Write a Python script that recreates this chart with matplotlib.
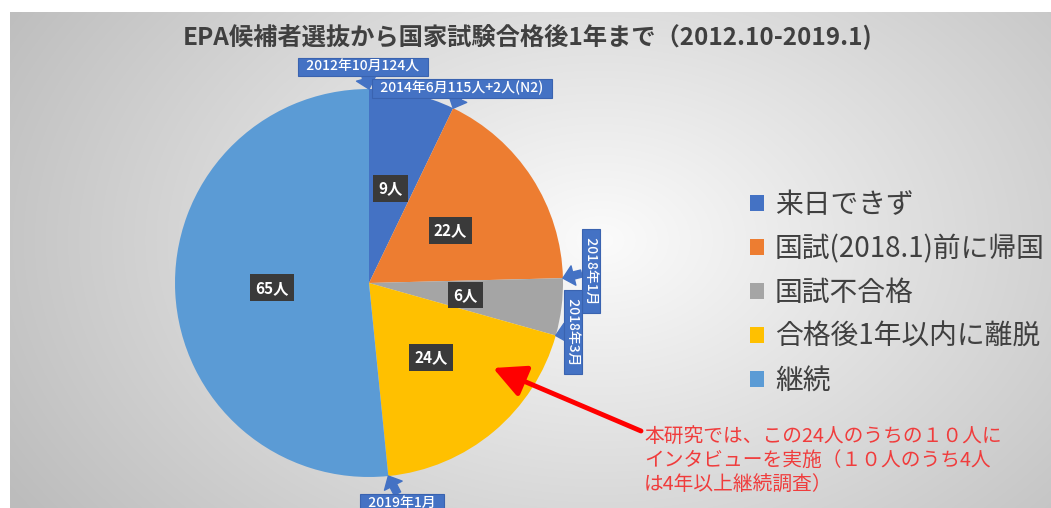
import numpy as np
import matplotlib
matplotlib.use('Agg')
import matplotlib.pyplot as plt

plt.rcParams['font.family'] = ['Noto Sans CJK JP', 'DejaVu Sans']

# ---- data ----
categories = ['来日できず', '国試(2018.1)前に帰国', '国試不合格', '合格後1年以内に離脱', '継続']
values = [9, 22, 6, 24, 65]
value_labels = ['9人', '22人', '6人', '24人', '65人']
colors = ['#4472C4', '#ED7D31', '#A5A5A5', '#FFC000', '#5B9BD5']
title = 'EPA候補者選抜から国家試験合格後1年まで（2012.10-2019.1)'
callout_texts = ['2012年10月124人', '2014年6月115人+2人(N2)', '2018年1月', '2018年3月', '2019年1月']
note = '本研究では、この24人のうちの１０人に\nインタビューを実施（１０人のうち4人\nは4年以上継続調査）'

W, H = 1051, 508
fig = plt.figure(figsize=(W / 100, H / 100), dpi=100)
fig.patch.set_facecolor('white')

# background panel with radial gradient
bg = fig.add_axes([0, 0, 1, 1])
bg.set_xlim(0, W)
bg.set_ylim(H, 0)
bg.axis('off')
yy, xx = np.mgrid[12:H, 10:W]
d = np.sqrt(((xx - 600) / 620.0) ** 2 + ((yy - 240) / 430.0) ** 2)
g = np.clip(0.985 - 0.22 * d, 0.74, 1)
bg.imshow(np.dstack([g, g, g]), extent=(10, W, H, 12), aspect='auto', zorder=0,
          interpolation='bilinear')

bg.text(528, 37, title, ha='center', va='center', fontsize=17.5, fontweight='bold',
        color='#404040')

# pie
cx, cy, R = 369, 283, 194
ax = fig.add_axes([(cx - R) / W, (H - cy - R) / H, 2 * R / W, 2 * R / H])
wedges, _ = ax.pie(values, colors=colors, startangle=90, counterclock=False,
                   radius=1, wedgeprops=dict(linewidth=0))
ax.set_xlim(-1, 1)
ax.set_ylim(-1, 1)
ax.set_aspect('equal')

for w, lab in zip(wedges, value_labels):
    th = np.deg2rad((w.theta1 + w.theta2) / 2)
    ax.text(0.5 * np.cos(th), 0.5 * np.sin(th), lab, ha='center', va='center',
            fontsize=11, fontweight='bold', color='white',
            bbox=dict(boxstyle='square,pad=0.35', fc='#3a3a3a', ec='none'))

# callouts at slice boundaries
total = sum(values)
cum = np.concatenate([[0], np.cumsum(values)])
offsets = [(-6, 22), (9, 20), (28, 7), (17, 4), (14, -27)]
rots = [0, 0, 270, 270, 0]
for i, (txt, off, rot) in enumerate(zip(callout_texts, offsets, rots)):
    ang = np.deg2rad(90 - cum[i] / total * 360)
    xy = (np.cos(ang), np.sin(ang))
    ax.annotate('  ' + txt + '  ', xy=xy, xytext=off, textcoords='offset pixels',
                ha='center', va='center', rotation=rot, fontsize=10, fontweight='medium',
                color='white',
                bbox=dict(boxstyle='square,pad=0.15', fc='#4472C4', ec='#3a63b0', lw=0.8),
                arrowprops=dict(arrowstyle='simple,head_length=0.6,head_width=1.1,tail_width=0.4',
                                fc='#4472C4', ec='#4472C4', shrinkA=0, shrinkB=0,
                                mutation_scale=13),
                annotation_clip=False)

# red arrow & note
ax.annotate('', xy=(493, H - 368), xycoords='figure pixels',
            xytext=(641, H - 431), textcoords='figure pixels',
            arrowprops=dict(arrowstyle='-|>,head_length=0.9,head_width=0.45', color='#ff0000',
                            lw=3.5, mutation_scale=22, shrinkA=0, shrinkB=0),
            annotation_clip=False)
bg.text(644, 426, note, ha='left', va='top', fontsize=14.2, color='#f03c3c',
        linespacing=1.2)

# legend
leg = fig.legend(wedges, categories, loc='upper left',
                 bbox_to_anchor=(750 / W, 1 - 190 / H), frameon=False, fontsize=20,
                 handlelength=0.5, handleheight=0.5, handletextpad=0.4,
                 labelspacing=0.5, borderpad=0, borderaxespad=0)
for t in leg.get_texts():
    t.set_color('#404040')

fig.savefig('out.png', dpi=100)
